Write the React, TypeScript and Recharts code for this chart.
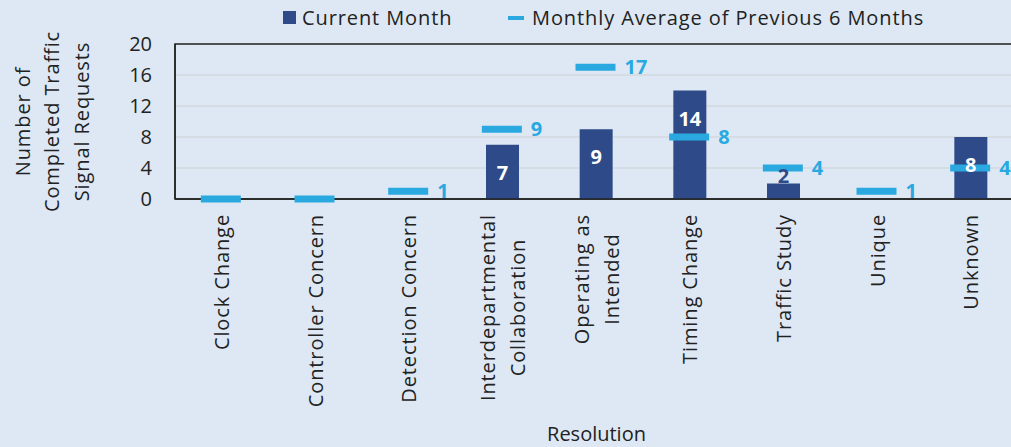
import { ComposedChart, Bar, Line, XAxis, YAxis, CartesianGrid, ReferenceArea, LabelList } from 'recharts'

const categories = [
  'Clock Change',
  'Controller Concern',
  'Detection Concern',
  'Interdepartmental\nCollaboration',
  'Operating as\nIntended',
  'Timing Change',
  'Traffic Study',
  'Unique',
  'Unknown',
]
const currentMonth = [0, 0, 0, 7, 9, 14, 2, 0, 8]
const prevSixMonthAvg = [0, 0, 1, 9, 17, 8, 4, 1, 4]
const yTicks = [0, 4, 8, 12, 16, 20]

const NAVY = '#2f4a88'
const SKY = '#29a9e0'
const INK = '#222222'
const BG = '#dde8f4'
const FONT = '"Open Sans", sans-serif'
const SPACING = 0.9

const data = categories.map((name, i) => ({ name, current: currentMonth[i], avg: prevSixMonthAvg[i] }))

let ctx: CanvasRenderingContext2D | null = null
function textWidth(s: string) {
  if (!ctx) ctx = document.createElement('canvas').getContext('2d')
  if (!ctx) return s.length * 12
  ctx.font = `20px ${FONT}`
  return ctx.measureText(s).width + s.length * SPACING
}

// rotated category labels, lines centred on each other, block ending just under the axis
function XTick(props: any) {
  const { x, y, payload } = props
  const lines = String(payload.value).split('\n')
  const w = Math.max(...lines.map(textWidth))
  const n = lines.length
  return (
    <g transform={`translate(${x},${y + 15}) rotate(-90)`}>
      {lines.map((l, i) => (
        <text
          key={i}
          x={-w / 2}
          y={(i - (n - 1) / 2) * 30}
          dy="0.35em"
          textAnchor="middle"
          fontSize={20}
          fontFamily={FONT}
          letterSpacing={SPACING}
          fill={INK}
        >
          {l}
        </text>
      ))}
    </g>
  )
}

function YTitle(props: any) {
  const vb = props.viewBox || { y: 44, height: 155 }
  const cy = vb.y + vb.height / 2
  const cx = 52
  const lines = ['Number of', 'Completed Traffic', 'Signal Requests']
  return (
    <g transform={`translate(${cx},${cy}) rotate(-90)`}>
      {lines.map((l, i) => (
        <text key={i} x={0} y={(i - 1) * 29.5} dy="0.35em" textAnchor="middle" fontSize={20} fontFamily={FONT} letterSpacing={SPACING} fill={INK}>
          {l}
        </text>
      ))}
    </g>
  )
}

function XTitle(props: any) {
  const vb = props.viewBox || { x: 175, width: 843 }
  return (
    <text x={vb.x + vb.width / 2} y={441} textAnchor="middle" fontSize={20} fontFamily={FONT} fill={INK}>
      Resolution
    </text>
  )
}

function barLabel(props: any) {
  const { x, y, width, height, value } = props
  if (!value) return null
  const inside = height > 40
  return (
    <text
      x={x + width / 2}
      y={inside ? y + 28 : y - 8}
      dy="0.35em"
      textAnchor="middle"
      fontSize={20}
      fontWeight={700}
      fontFamily={FONT}
      fill={inside ? '#ffffff' : NAVY}
    >
      {value}
    </text>
  )
}

function avgLabel(props: any) {
  const { x, y, value } = props
  if (!value) return null
  return (
    <text x={x + 28} y={y} dy="0.35em" textAnchor="start" fontSize={20} fontWeight={700} fontFamily={FONT} fill={SKY}>
      {value}
    </text>
  )
}

function avgMarker(props: any) {
  const { cx, cy, index } = props
  if (cx == null || cy == null) return <g key={index} />
  return <rect key={index} x={cx - 21} y={cy - 3.5} width={40} height={7} fill={SKY} />
}

const legendText = { fontSize: 20, lineHeight: '27px', color: INK, letterSpacing: SPACING }

export default function App() {
  return (
    <div
      style={{
        position: 'absolute',
        left: 0,
        top: 0,
        width: 1011,
        height: 447,
        overflow: 'hidden',
        background: BG,
        fontFamily: FONT,
      }}
    >
      <div style={{ position: 'absolute', left: 283, top: 4, display: 'flex', alignItems: 'center', ...legendText }}>
        <span style={{ width: 13, height: 13, background: NAVY, marginRight: 6 }} />
        Current Month
      </div>
      <div style={{ position: 'absolute', left: 508, top: 4, display: 'flex', alignItems: 'center', ...legendText }}>
        <span style={{ width: 16, height: 4, background: SKY, marginRight: 8 }} />
        Monthly Average of Previous 6 Months
      </div>
      <ComposedChart width={1040} height={447} data={data} margin={{ top: 44, right: 22, bottom: 0, left: 0 }}>
        <CartesianGrid vertical={false} stroke="#d3d8de" strokeWidth={1.5} />
        <XAxis
          dataKey="name"
          interval={0}
          height={248}
          tickLine={false}
          tickSize={0}
          tickMargin={0}
          axisLine={{ stroke: INK, strokeWidth: 1.5 }}
          tick={<XTick />}
          label={<XTitle />}
        />
        <YAxis
          width={175}
          domain={[0, 20]}
          ticks={yTicks}
          tickLine={false}
          tickSize={0}
          tickMargin={23}
          axisLine={{ stroke: INK, strokeWidth: 1.5 }}
          tick={{ fontSize: 20, fill: INK, fontFamily: FONT }}
          label={<YTitle />}
        />
        <Bar dataKey="current" fill={NAVY} barSize={33} isAnimationActive={false}>
          <LabelList dataKey="current" content={barLabel} />
        </Bar>
        <Line
          dataKey="avg"
          stroke="none"
          dot={avgMarker}
          activeDot={false}
          isAnimationActive={false}
        >
          <LabelList dataKey="avg" content={avgLabel} />
        </Line>
        <ReferenceArea y1={0} y2={20} fill="none" stroke={INK} strokeWidth={1.5} fillOpacity={0} ifOverflow="visible" />
      </ComposedChart>
    </div>
  )
}
